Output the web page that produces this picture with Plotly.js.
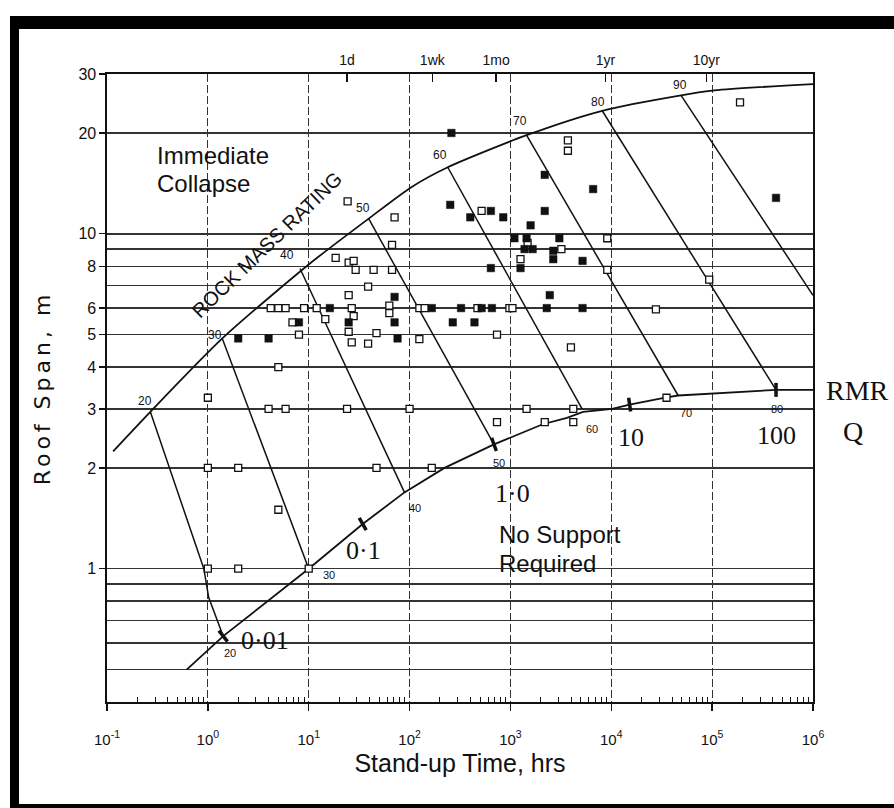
<!DOCTYPE html>
<html><head><meta charset="utf-8">
<script src="https://cdn.plot.ly/plotly-3.0.1.min.js"></script>
<style>
html,body{margin:0;padding:0;background:#fff;}
#chart{width:894px;height:808px;}
.ytitle{letter-spacing:4px;}
</style>
</head><body><div id="chart"></div>
<script>
// ---------- data ----------
const decadeTicks  = [0.1, 1, 10, 100, 1000, 10000, 100000, 1000000];
const decadeLabels = ['10<sup>-1</sup>','10<sup>0</sup>','10<sup>1</sup>','10<sup>2</sup>','10<sup>3</sup>','10<sup>4</sup>','10<sup>5</sup>','10<sup>6</sup>'];
const spanTicks  = [1, 2, 3, 4, 5, 6, 8, 10, 20, 30];
const spanLabels = ['1','2','3','4','5','6','8','10','20','30'];
const spanExtraLines = [0.5, 0.6, 0.7, 0.8, 0.9, 7, 9];
const timeMarks  = [24, 168, 720, 8760, 87600];
const timeLabels = ['1d','1wk','1mo','1yr','10yr'];

// upper boundary (immediate collapse)
const upperX = [0.115, 0.269, 1.39, 10, 39.3, 105, 239, 1445, 8130, 49200, 105000, 1000000];
const upperY = [2.24, 2.94, 4.87, 8.1, 11.1, 13.8, 15.8, 19.7, 23.3, 25.9, 26.8, 28.0];
// lower boundary (no support required)
const lowerX = [0.617, 1.42, 10, 34.3, 89, 222, 687, 2089, 3630, 5250, 10200, 15200, 35300, 46000, 430000, 1000000];
const lowerY = [0.5, 0.629, 1.0, 1.36, 1.69, 2.0, 2.35, 2.70, 2.82, 2.94, 3.0, 3.09, 3.25, 3.29, 3.42, 3.42];

// RMR lines
const rmrValues = ['20','30','40','50','60','70','80','90'];
const rmrLineX = [[0.269,0.912,1.02,1.42],[1.39,6.6,10],[8.2,89],[39.3,687],[239,5130],[1445,46000],[8130,430000],[49200,1000000]];
const rmrLineY = [[2.94,1.0,0.82,0.629],[4.87,1.38,1.0],[7.88,1.69],[11.1,2.35],[15.8,3.0],[19.7,3.29],[23.3,3.42],[25.9,6.55]];

// Q ticks on lower boundary
const qLabels = ['0·01','0·1','1·0','10','100'];
const qTickX = [1.42, 34.3, 687, 15200, 430000];
const qTickY = [0.629, 1.36, 2.35, 3.09, 3.42];

// case histories
const openX = [1,1,2,1,2,10,5,5,4,5.9, 24,100,1445,4200,736,2190,4200,47,166,35300, 4.2,5.0,5.9,9,12,26.7,27.9,63,63,125, 141,471,977,1047,6.9,14.6,8,24.9,26.7,38.8, 47,125,736,3980,18.5,24.9,27.9,29.2,44,67, 38.8,24.9,24.3,71,67,518,3715,3715,1479,3200, 1259,9120,9120,189000,93500,27700];
const openY = [3.24,2,2,1,1,1,1.5,4,3,3, 3,3,3,3,2.74,2.74,2.74,2,2,3.24, 6,6,6,6,6,6,5.68,6.1,5.8,6, 6,6,6,6,5.44,5.56,5.0,5.1,4.74,4.7, 5.05,4.85,5.0,4.58,8.48,8.2,8.3,7.8,7.8,7.8, 6.95,6.56,12.5,11.2,9.27,11.7,19.0,17.7,9.4,9.0, 8.4,9.7,7.8,24.7,7.3,5.95];
const filledX = [2,4,8,16.2,24.9,71,71,76,166,324, 518,655,2290,5190,268,440,2455,640,1259,5190, 2660,2660,1380,1660,1096,1445,3055,1585,253,400, 640,849,2188,2188,260,6607,430000];
const filledY = [4.87,4.87,5.44,6,5.44,6.48,5.44,4.87,6,6, 6,6,6,6,5.44,5.44,6.56,7.9,7.9,8.3, 8.9,8.4,9,9,9.7,9.7,9.7,10.6,12.2,11.2, 11.7,11.2,11.7,15.0,20,13.6,12.8];

// ---------- label offsets (px) ----------
const upperLabelShift = [[-5,11],[-7,3],[-13,13],[-6,11],[-8,12],[-7,14],[-4,9],[-1,10]];
const lowerLabelShift = [[7,-17],[20,-6],[11,-16],[5,-19],[10,-20],[8,-17],[1,-19]];
const qLabelShift = [[42,-4],[1,-26],[19,-49],[1,-33],[0,-46]];
const qTickAngle = [-38,-30,-20,-8,0];

const ink = '#111';
const sans = 'Liberation Sans, Arial, sans-serif';
const serif = 'Liberation Serif, Times New Roman, serif';

const minorX = [];
for (let e = -1; e < 6; e++) for (let d = 2; d <= 9; d++) minorX.push(d * Math.pow(10, e));

const traces = [];
traces.push({x: upperX, y: upperY, mode: 'lines', line: {color: ink, width: 1.8, shape: 'spline', smoothing: 0.7}, hoverinfo: 'skip'});
traces.push({x: lowerX, y: lowerY, mode: 'lines', line: {color: ink, width: 1.8}, hoverinfo: 'skip'});
rmrLineX.forEach((xs, i) => {
  traces.push({x: xs, y: rmrLineY[i], mode: 'lines', line: {color: ink, width: 1.5}, hoverinfo: 'skip'});
});
traces.push({x: qTickX, y: qTickY, mode: 'markers', marker: {symbol: 'line-ns', size: 10, angle: qTickAngle, line: {color: ink, width: 3.5}}, hoverinfo: 'skip'});
traces.push({x: openX, y: openY, mode: 'markers', marker: {symbol: 'square', size: 7, color: '#fff', line: {color: ink, width: 1.3}}});
traces.push({x: filledX, y: filledY, mode: 'markers', marker: {symbol: 'square', size: 7.5, color: ink, line: {color: ink, width: 0.5}}});
traces.push({x: timeMarks, y: timeMarks.map(() => 1), xaxis: 'x2', mode: 'markers', marker: {opacity: 0}, hoverinfo: 'skip'});

const ann = [];
const L = Math.log10;
rmrValues.forEach((v, i) => {
  ann.push({x: L(rmrLineX[i][0]), y: L(rmrLineY[i][0]), xref: 'x', yref: 'y', text: v, showarrow: false,
    xanchor: 'center', yanchor: 'middle',
    xshift: upperLabelShift[i][0], yshift: upperLabelShift[i][1], font: {family: sans, size: 12, color: ink}});
  if (i < lowerLabelShift.length) {
    const n = rmrLineX[i].length - 1;
    ann.push({x: L(rmrLineX[i][n]), y: L(rmrLineY[i][n]), xref: 'x', yref: 'y', text: v, showarrow: false,
      xanchor: 'center', yanchor: 'middle',
      xshift: lowerLabelShift[i][0], yshift: lowerLabelShift[i][1], font: {family: sans, size: 11, color: ink}});
  }
});
qLabels.forEach((q, i) => {
  ann.push({x: L(qTickX[i]), y: L(qTickY[i]), xref: 'x', yref: 'y', text: q, showarrow: false,
    xanchor: 'center', yanchor: 'middle',
    xshift: qLabelShift[i][0], yshift: qLabelShift[i][1], font: {family: serif, size: 26, color: ink}});
});
const free = [
  {text: 'Immediate', x: 0.068, y: 0.870, xanchor: 'left', size: 24, family: sans},
  {text: 'Collapse', x: 0.068, y: 0.8256, xanchor: 'left', size: 24, family: sans},
  {text: 'No Support', x: 0.5524, y: 0.2675, xanchor: 'left', size: 24, family: sans},
  {text: 'Required', x: 0.5524, y: 0.2205, xanchor: 'left', size: 24, family: sans},
  {text: 'RMR', x: 1.0637, y: 0.4968, xanchor: 'center', size: 28, family: serif},
  {text: 'Q', x: 1.0567, y: 0.430, xanchor: 'center', size: 28, family: serif}
];
free.forEach(f => ann.push({text: f.text, x: f.x, y: f.y, xref: 'paper', yref: 'paper', xanchor: f.xanchor, yanchor: 'middle',
  showarrow: false, font: {family: f.family, size: f.size, color: ink}}));
ann.push({text: 'ROCK MASS RATING', x: 0.226, y: 0.728, xref: 'paper', yref: 'paper', xanchor: 'center', yanchor: 'middle',
  showarrow: false, textangle: -44, font: {family: sans, size: 20, color: ink}});

const band = (x0, x1, y0, y1) => ({type: 'rect', xref: 'paper', yref: 'paper', x0, x1, y0, y1, fillcolor: '#000', line: {width: 0}, layer: 'above'});

const layout = {
  width: 894, height: 808,
  margin: {l: 107, r: 81, t: 74, b: 106, pad: 0},
  paper_bgcolor: '#fff', plot_bgcolor: '#fff',
  showlegend: false,
  xaxis: {
    type: 'log', range: [-1, 6], automargin: false,
    tickmode: 'array', tickvals: decadeTicks, ticktext: decadeLabels,
    ticks: 'outside', ticklen: 7, tickwidth: 1.3, tickcolor: ink,
    ticklabelstandoff: 16,
    tickfont: {family: sans, size: 15, color: ink},
    showline: true, mirror: true, linecolor: ink, linewidth: 1.6,
    showgrid: true, gridcolor: '#333', gridwidth: 1.2, griddash: '8px,3px',
    zeroline: false,
    minor: {tickmode: 'array', tickvals: minorX, ticks: 'inside', ticklen: 5, tickcolor: ink, tickwidth: 1, showgrid: false},
    title: {text: 'Stand-up Time, hrs', font: {family: sans, size: 25, color: ink}, standoff: 8}
  },
  xaxis2: {
    type: 'log', range: [-1, 6], overlaying: 'x', side: 'top', automargin: false,
    tickmode: 'array', tickvals: timeMarks, ticktext: timeLabels,
    ticks: 'inside', ticklen: 8, tickwidth: 1.2, tickcolor: ink,
    ticklabelstandoff: 5,
    tickfont: {family: sans, size: 14, color: ink},
    showgrid: false, showline: false, zeroline: false
  },
  yaxis: {
    type: 'log', range: [Math.log10(0.4), Math.log10(30)], automargin: false,
    tickmode: 'array', tickvals: spanTicks, ticktext: spanLabels,
    ticks: 'outside', ticklen: 6, tickwidth: 1.3, tickcolor: ink,
    tickfont: {family: sans, size: 16, color: ink},
    showline: true, mirror: true, linecolor: ink, linewidth: 1.6,
    showgrid: true, gridcolor: '#333', gridwidth: 1.4,
    zeroline: false,
    minor: {tickmode: 'array', tickvals: spanExtraLines, ticks: '', showgrid: true, gridcolor: '#333', gridwidth: 1.4},
    title: {text: 'Roof Span, m', font: {family: 'DejaVu Sans, sans-serif', size: 22, color: ink}, standoff: 22}
  },
  annotations: ann,
  shapes: [
    band(-0.1374, 1.115, 1.0717, 1.0924),
    band(-0.1374, -0.1246, -0.1688, 1.0924),
    band(-0.1374, 1.115, -0.1688, -0.1624)
  ]
};

Plotly.newPlot('chart', traces, layout, {staticPlot: true, displayModeBar: false});
</script></body></html>
